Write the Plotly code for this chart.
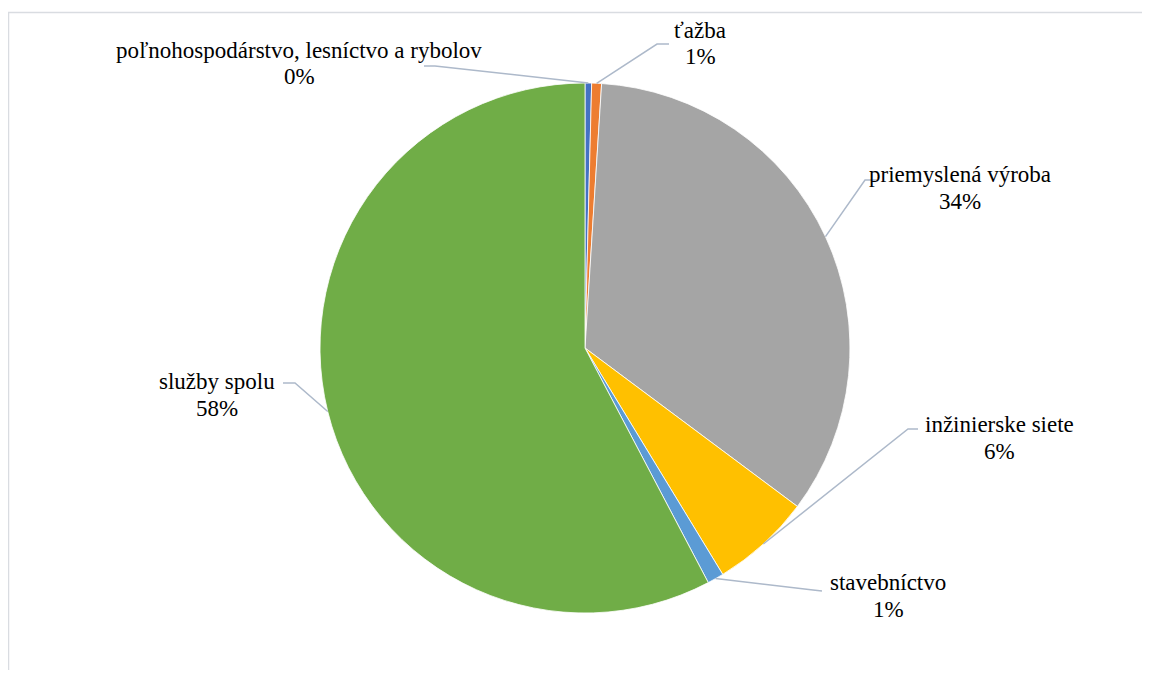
import math
import plotly.graph_objects as go

# ---- data ----
categories = ["poľnohospodárstvo, lesníctvo a rybolov", "ťažba", "priemyslená výroba",
              "inžinierske siete", "stavebníctvo", "služby spolu"]
values = [0.4, 0.6, 34.2, 6.1, 1.0, 57.7]
colors = ["#4472C4", "#ED7D31", "#A5A5A5", "#FFC000", "#5B9BD5", "#70AD47"]

OFF = 8  # page body margin
W, H = 1150 - 2 * OFF, 678 - 2 * OFF
CX, CY, R = 585, 348, 265

# label layout (page pixel positions): text centre x, name-line y, elbow, elbow end
label_layout = [
    dict(tx=299, ty=50, elbow=(435, 66), end=(424, 66)),
    dict(tx=700, ty=30, elbow=(657, 44), end=(669, 44)),
    dict(tx=960, ty=174, elbow=(865, 180), end=(877, 180)),
    dict(tx=999, ty=424, elbow=(908, 429), end=(918, 429)),
    dict(tx=888, ty=582, elbow=(813, 590), end=(822, 591)),
    dict(tx=217, ty=381, elbow=(295, 383), end=(283, 383)),
]

def px(x):
    return (x - OFF) / W

def py(y):
    return 1 - (y - OFF) / H

fig = go.Figure()
fig.add_trace(go.Pie(
    labels=categories, values=values, sort=False, direction="clockwise", rotation=0,
    marker=dict(colors=colors, line=dict(color="white", width=0.8)),
    textinfo="none", hoverinfo="label+percent", showlegend=False,
    domain=dict(x=[px(CX - R), px(CX + R)], y=[py(CY + R), py(CY - R)]),
))

total = sum(values)
cum = 0.0
annotations = []
shapes = []
font = dict(family="Liberation Serif, Times New Roman, serif", size=23, color="#000000")
for name, v, lay in zip(categories, values, label_layout):
    mid = (cum + v / 2) / total * 2 * math.pi
    cum += v
    ax_ = CX + R * math.sin(mid)
    ay_ = CY - R * math.cos(mid)
    ex, ey = lay["elbow"]
    fx, fy = lay["end"]
    path = f"M {px(ax_)} {py(ay_)} L {px(ex)} {py(ey)} L {px(fx)} {py(fy)}"
    shapes.append(dict(type="path", xref="paper", yref="paper", path=path,
                       line=dict(color="#ADB9CA", width=1.5)))
    annotations.append(dict(x=px(lay["tx"]), y=py(lay["ty"]), xref="paper", yref="paper",
                            text=name, showarrow=False, font=font,
                            xanchor="center", yanchor="middle"))
    annotations.append(dict(x=px(lay["tx"]), y=py(lay["ty"] + 27), xref="paper", yref="paper",
                            text=f"{v / total:.0%}", showarrow=False, font=font,
                            xanchor="center", yanchor="middle"))

# chart border (top and left visible)
shapes.append(dict(type="path", xref="paper", yref="paper",
                   path=f"M {px(8.5)} {py(700)} L {px(8.5)} {py(12.5)} L {px(1160)} {py(12.5)}",
                   line=dict(color="#D9DCE1", width=1.5)))

fig.update_layout(
    width=W, height=H, margin=dict(l=0, r=0, t=0, b=0),
    paper_bgcolor="white", plot_bgcolor="white",
    annotations=annotations, shapes=shapes,
)

fig.write_html("out.html")
